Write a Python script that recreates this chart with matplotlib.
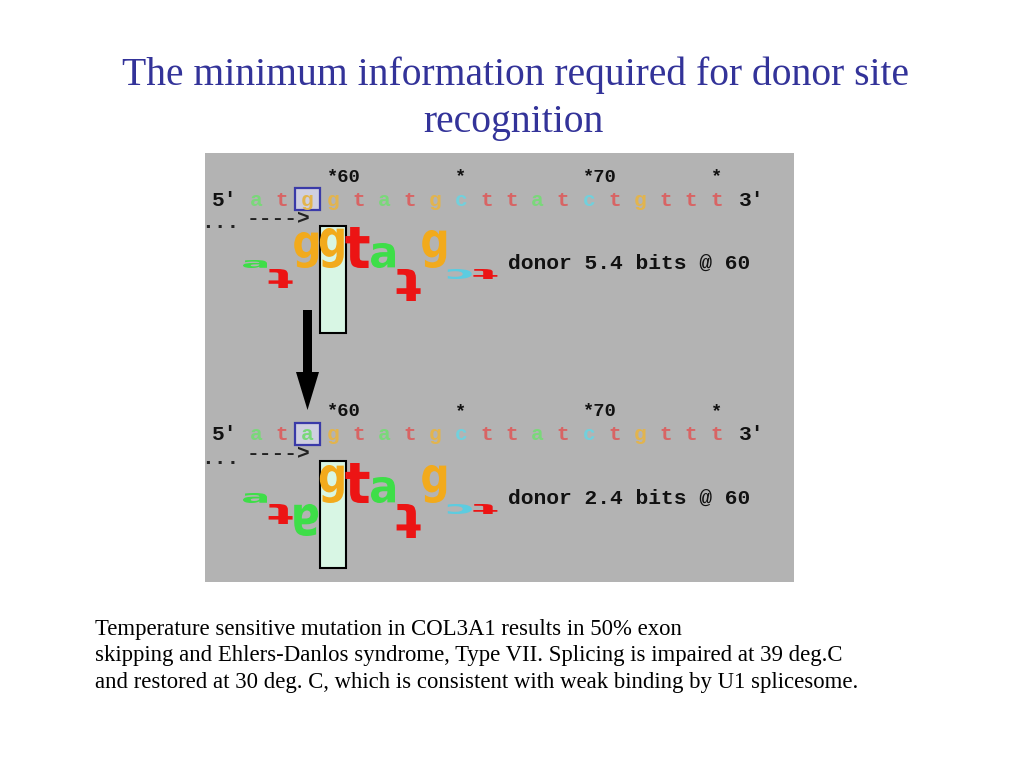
import matplotlib
matplotlib.use("Agg")
import matplotlib.pyplot as plt
from matplotlib.patches import Rectangle, Polygon, PathPatch
from matplotlib.textpath import TextPath
from matplotlib.font_manager import FontProperties
import matplotlib.transforms as mtransforms

# ---------------- data ----------------
title_lines = ["The minimum information required for donor site", "recognition"]
caption_lines = [
    "Temperature sensitive mutation in COL3A1 results in 50% exon",
    "skipping and Ehlers-Danlos syndrome, Type VII. Splicing is impaired at 39 deg.C",
    "and restored at 30 deg. C, which is consistent with weak binding by U1 splicesome.",
]
seq_wild = list("atggtatgcttatctgttt")
seq_mut = list("atagtatgcttatctgttt")
boxed_index = 2
marker_labels = ["*60", "*", "*70", "*"]
marker_index = [3, 8, 13, 18]

logo_letters = ["a", "t", "g", "g", "t", "a", "t", "g", "c", "t"]
logo_bits_wild = [0.4, -0.95, 1.8, 2.0, 2.05, 1.25, -1.6, 1.9, -0.5, -0.5]
logo_letters_mut = ["a", "t", "a", "g", "t", "a", "t", "g", "c", "t"]
logo_bits_mut = [0.5, -1.0, -1.6, 1.9, 2.0, 1.3, -1.7, 1.9, -0.5, -0.5]
donor_labels = ["donor 5.4 bits @ 60", "donor 2.4 bits @ 60"]

# ---------------- style ----------------
seq_colors = {"a": "#7ad87a", "t": "#d86464", "g": "#e2b44e", "c": "#72d0dc"}
logo_colors = {"a": "#3ede48", "t": "#ec1414", "g": "#f2aa1c", "c": "#5ccce0"}
PANEL = "#b3b3b3"
TITLE_C = "#333399"
MONO = FontProperties(family="Liberation Mono", weight="bold")
LOGO_FP = FontProperties(family="DejaVu Sans", weight="bold")

fig = plt.figure(figsize=(10.24, 7.68), dpi=100)
ax = fig.add_axes([0, 0, 1, 1])
ax.set_xlim(0, 1024)
ax.set_ylim(768, 0)
ax.axis("off")

# title
ax.text(516, 85, title_lines[0], ha="center", va="baseline", fontsize=28.5,
        family="Liberation Serif", color=TITLE_C)
ax.text(513, 132, title_lines[1], ha="center", va="baseline", fontsize=28.5,
        family="Liberation Serif", color=TITLE_C)

# caption
for i, line in enumerate(caption_lines):
    ax.text(95, 635 + i * 26.5, line, ha="left", va="baseline", fontsize=16.4,
            family="Liberation Serif", color="black")

# panel
ax.add_patch(Rectangle((205, 153), 589, 429, facecolor=PANEL, edgecolor="none", zorder=0))

SEQ_X0 = 256
STEP = 25.6
LOGO_X0 = 255
MONO_SIZE = 15.3


def draw_letter(ch, xc, base, h, w, color):
    tp = TextPath((0, 0), ch, size=1, prop=LOGO_FP)
    bb = tp.get_extents()
    sx = w / bb.width
    sy = abs(h) / bb.height
    t = mtransforms.Affine2D().translate(-bb.x0 - bb.width / 2, -bb.y0).scale(sx, sy)
    if h > 0:
        t = t.scale(1, -1).translate(xc, base)
    else:
        t = t.scale(-1, 1).translate(xc, base + 1)
    path = t.transform_path(tp)
    ax.add_patch(PathPatch(path, facecolor=color, edgecolor="none", zorder=3))


def draw_block(dy, seq, letters, bits, label):
    # markers
    for lab, idx in zip(marker_labels, marker_index):
        ax.text(SEQ_X0 + idx * STEP - 6, 177 + dy, lab, ha="left", va="center",
                fontproperties=MONO, fontsize=13.5, color="#111111")
    # sequence
    ax.text(212, 200 + dy, "5'", ha="left", va="center", fontproperties=MONO,
            fontsize=MONO_SIZE, color="#111111")
    ax.text(739, 200 + dy, "3'", ha="left", va="center", fontproperties=MONO,
            fontsize=MONO_SIZE, color="#111111")
    bx = SEQ_X0 + boxed_index * STEP
    ax.add_patch(Rectangle((bx - 12.5, 188 + dy), 25, 22, facecolor="#cfcfe0",
                           edgecolor="#3a3aa8", lw=1.6, zorder=2))
    for i, ch in enumerate(seq):
        ax.text(SEQ_X0 + i * STEP, 200 + dy, ch, ha="center", va="center",
                fontproperties=MONO, fontsize=MONO_SIZE, color=seq_colors[ch], zorder=3)
    # dots and arrow
    ax.text(201, 223 + dy, "...", ha="left", va="center", fontproperties=MONO,
            fontsize=MONO_SIZE, color="#222222")
    ax.text(247, 219 + dy, "---->", ha="left", va="center", fontproperties=MONO,
            fontsize=MONO_SIZE, color="#222222")
    # highlight rectangle
    ax.add_patch(Rectangle((320, 226 + dy), 26, 107, facecolor="#d8f6e4",
                           edgecolor="black", lw=1.5, zorder=2))
    # logo
    base = 268 + dy
    for i, (ch, b) in enumerate(zip(letters, bits)):
        draw_letter(ch, LOGO_X0 + i * STEP, base, b * 20, 24, logo_colors[ch])
    ax.text(508, 263 + dy, label, ha="left", va="center", fontproperties=MONO,
            fontsize=MONO_SIZE, color="#111111")


draw_block(0, seq_wild, logo_letters, logo_bits_wild, donor_labels[0])
draw_block(235, seq_mut, logo_letters_mut, logo_bits_mut, donor_labels[1])

# big arrow between the two
ax.add_patch(Rectangle((303, 310), 9, 66, facecolor="black", edgecolor="none", zorder=4))
ax.add_patch(Polygon([(296, 372), (319, 372), (307.5, 410)], closed=True,
                     facecolor="black", edgecolor="none", zorder=4))

fig.savefig("out.png", dpi=100, facecolor="white")
